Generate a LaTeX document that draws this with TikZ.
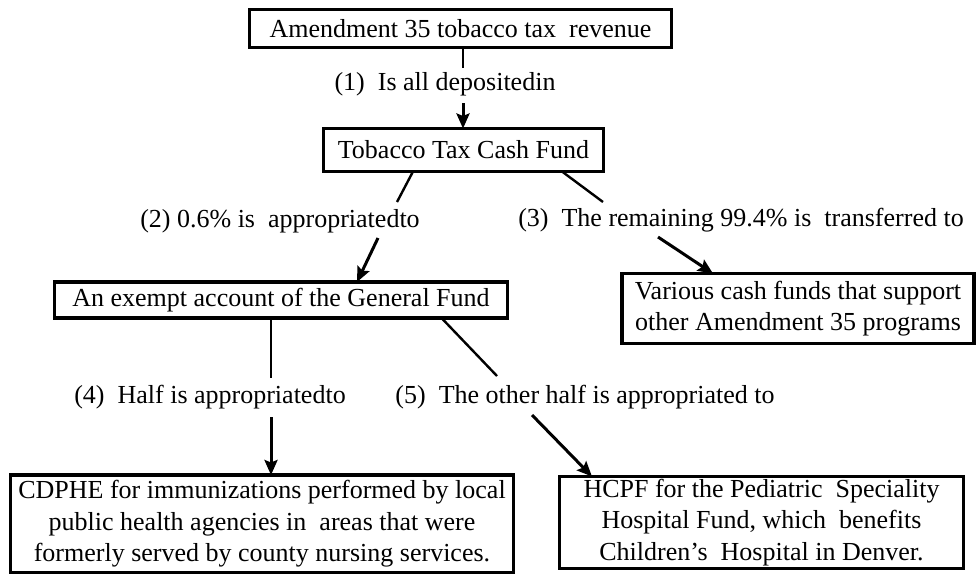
\documentclass[tikz,border=0pt]{standalone}
\usepackage{fontspec}
\setmainfont{Liberation Serif}
\usetikzlibrary{arrows.meta}
\begin{document}
\begin{tikzpicture}[x=1pt,y=-1pt,
  box/.style={draw=black, line width=3.4pt, fill=white, inner sep=0pt, outer sep=0pt,
    align=center, font=\fontsize{26}{31.5}\selectfont},
  lbl/.style={inner sep=0pt, font=\fontsize{26}{30}\selectfont},
  link/.style={line width=2.4pt},
  arr/.style={line width=3pt, -{Stealth[length=15pt,width=13pt,inset=2.5pt]}}]
\useasboundingbox (0,0) rectangle (976,573);
% boxes
\node[box, minimum width=422pt, minimum height=38pt] (b1) at (460.5,28.5) {Amendment 35 tobacco tax\ \ revenue};
\node[box, minimum width=280pt, minimum height=43pt] (b2) at (463.5,150) {Tobacco Tax Cash Fund};
\node[box, minimum width=453pt, minimum height=36pt] (b3) at (281,300) {An exempt account of the General Fund};
\node[box, minimum width=352pt, minimum height=70pt] (b4) at (798,308.5) {Various cash funds that support\\other Amendment 35 programs};
\node[box, minimum width=503pt, minimum height=98pt] (b5) at (262,524) {CDPHE for immunizations performed by local\\public health agencies in\ \ areas that were\\formerly served by county nursing services.};
\node[box, minimum width=404pt, minimum height=92pt] (b6) at (761.5,522.5) {HCPF for the Pediatric\ \ Speciality\\Hospital Fund, which\ \ benefits\\Children's\ \ Hospital in Denver.};
% labels
\node[lbl] (l1) at (445,84) {(1)\ \ Is all depositedin};
\node[lbl] (l2) at (280,221) {(2) 0.6\% is\ \ appropriatedto};
\node[lbl] (l3) at (741,220) {(3)\ \ The remaining 99.4\% is\ \ transferred to};
\node[lbl] (l4) at (210,397) {(4)\ \ Half is appropriatedto};
\node[lbl] (l5) at (585,397) {(5)\ \ The other half is appropriated to};
% free ends
\coordinate (m1a) at (463,68);  \coordinate (m1b) at (463,103);
\coordinate (m2a) at (397,202); \coordinate (m2b) at (378,238);
\coordinate (m3a) at (603,202); \coordinate (m3b) at (658,237);
\coordinate (m4a) at (271,378); \coordinate (m4b) at (271,417);
\coordinate (m5a) at (497,376); \coordinate (m5b) at (532,415);
% connectors
\draw[link] ([xshift=2.5pt]b1.south) -- (m1a);
\draw[arr] (m1b) -- (b2.north -| m1b);
\draw[link] ([xshift=-50.5pt]b2.south) -- (m2a);
\draw[arr] (m2b) -- ([xshift=302.5pt]b3.north west);
\draw[link] ([xshift=98.5pt]b2.south) -- (m3a);
\draw[arr] (m3b) -- ([xshift=91pt]b4.north west);
\draw[link] (b3.south -| m4a) -- (m4a);
\draw[arr] (m4b) -- (b5.north -| m4b);
\draw[link] ([xshift=387pt]b3.south west) -- (m5a);
\draw[arr] (m5b) -- ([xshift=32.5pt]b6.north west);
\end{tikzpicture}
\end{document}
